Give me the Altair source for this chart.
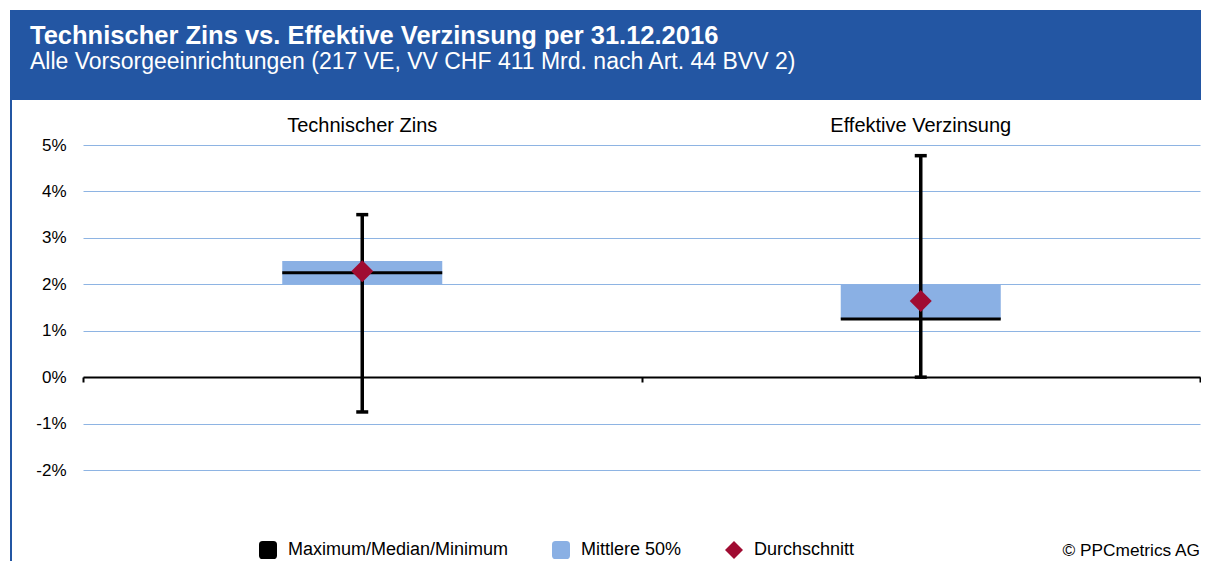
import altair as alt
import pandas as pd

# ---------------- data ----------------
categories = ["Technischer Zins", "Effektive Verzinsung"]
minimum = [-0.0075, 0.0]
lower_quartile = [0.020, 0.0125]
median = [0.0225, 0.0125]
upper_quartile = [0.025, 0.020]
maximum = [0.035, 0.0477]
average = [0.0228, 0.0164]

series_names = ["Maximum/Median/Minimum", "Mittlere 50%", "Durchschnitt"]
series_colors = ["#000000", "#8AB0E4", "#A00C32"]

title_text = ["Technischer Zins vs. Effektive Verzinsung per 31.12.2016"]
subtitle_text = ["Alle Vorsorgeeinrichtungen (217 VE, VV CHF 411 Mrd. nach Art. 44 BVV 2)"]
credit_text = ["© PPCmetrics AG"]

# ---------------- layout constants ----------------
FONT = "Liberation Sans"
W, H = 1117, 325
HEADER_BLUE = "#2356A3"
GRID_BLUE = "#8EB4E3"
rounded_square = ("M -1 -0.6 Q -1 -1 -0.6 -1 L 0.6 -1 Q 1 -1 1 -0.6 L 1 0.6 "
                  "Q 1 1 0.6 1 L -0.6 1 Q -1 1 -1 0.6 Z")

df = pd.DataFrame({
    "Kategorie": categories,
    "Minimum": minimum,
    "Q1": lower_quartile,
    "Median": median,
    "Q3": upper_quartile,
    "Maximum": maximum,
    "Durchschnitt": average,
})

base = alt.Chart(df)

xscale = alt.Scale(domain=categories, paddingInner=0, paddingOuter=0)
yscale = alt.Scale(domain=[-0.02, 0.05], nice=False)
yaxis = alt.Axis(format=".0%", values=[-0.02, -0.01, 0, 0.01, 0.02, 0.03, 0.04, 0.05],
                 labelExpr="replace(datum.label, '\u2212', '-')",
                 grid=True, gridColor=GRID_BLUE, gridWidth=1, domain=False, ticks=False,
                 labelFontSize=17, labelColor="#000000", labelPadding=17, labelFont=FONT,
                 title=None)

legend_cfg = alt.Legend(orient="none", legendX=176, legendY=396, direction="horizontal",
                        title=None, labelFontSize=18, labelFont=FONT, labelColor="#000000",
                        labelLimit=0, symbolSize=324, symbolStrokeWidth=0, labelOffset=11,
                        columnPadding=43, symbolOpacity=1)

color_enc = alt.Color(
    "Serie:N",
    scale=alt.Scale(domain=series_names, range=series_colors),
    legend=legend_cfg,
)

x_top = alt.X("Kategorie:N", sort=categories, scale=xscale,
              axis=alt.Axis(orient="top", domain=False, ticks=False, grid=False,
                            labelAngle=0, labelFontSize=20, labelFont=FONT, labelLimit=0,
                            labelColor="#000000", labelPadding=10, title=None))
x_zero = alt.X("Kategorie:N", sort=categories, scale=xscale,
               axis=alt.Axis(orient="bottom", offset=-93, labels=False, grid=False,
                             domain=True, domainColor="#000000", domainWidth=2,
                             ticks=True, tickBand="extent", tickSize=5, tickWidth=2,
                             tickColor="#000000", title=None))
x_plain = alt.X("Kategorie:N", sort=categories, scale=xscale, axis=None)

box = base.transform_calculate(Serie="'Mittlere 50%'").mark_bar(
    width=alt.RelativeBandSize(0.2865), opacity=1
).encode(
    x=x_zero,
    y=alt.Y("Q1:Q", scale=yscale, axis=yaxis),
    y2="Q3:Q",
    color=color_enc,
)

whisker = base.transform_calculate(Serie="'Maximum/Median/Minimum'").mark_rule(
    strokeWidth=3.5
).encode(
    x=x_top,
    y=alt.Y("Minimum:Q", scale=yscale, axis=yaxis),
    y2="Maximum:Q",
    color=color_enc,
)

caps = base.transform_fold(["Minimum", "Maximum"], as_=["Stat", "Wert"]).transform_calculate(
    Serie="'Maximum/Median/Minimum'"
).mark_tick(size=12, thickness=3.5, opacity=1).encode(
    x=x_plain,
    y=alt.Y("Wert:Q", scale=yscale, axis=yaxis),
    color=color_enc,
)

median_tick = base.transform_calculate(Serie="'Maximum/Median/Minimum'").mark_tick(
    size=160, thickness=3, opacity=1
).encode(
    x=x_plain,
    y=alt.Y("Median:Q", scale=yscale, axis=yaxis),
    color=color_enc,
)

mean_pt = base.transform_calculate(Serie="'Durchschnitt'").mark_point(
    filled=True, size=484, opacity=1
).encode(
    x=x_plain,
    y=alt.Y("Durchschnitt:Q", scale=yscale, axis=yaxis),
    color=color_enc,
    shape=alt.Shape("Serie:N", scale=alt.Scale(domain=series_names,
                                               range=[rounded_square, rounded_square, "diamond"]),
                    legend=legend_cfg),
)

# ---------------- header / decoration ----------------
hdr_df = pd.DataFrame({"t": title_text, "s": subtitle_text, "c": credit_text})
hdr = alt.Chart(hdr_df)

header_rect = hdr.mark_rect(color=HEADER_BLUE).encode(
    x=alt.value(-73), x2=alt.value(W + 20), y=alt.value(-135), y2=alt.value(-45)
)
left_line = hdr.mark_rule(color=HEADER_BLUE, strokeWidth=2).encode(
    x=alt.value(-72), y=alt.value(-45), y2=alt.value(H + 100)
)
title_mark = hdr.mark_text(align="left", baseline="alphabetic", font=FONT, fontSize=25.5,
                           fontWeight="bold", color="#FFFFFF").encode(
    x=alt.value(-53), y=alt.value(-101.5), text="t:N"
)
subtitle_mark = hdr.mark_text(align="left", baseline="alphabetic", font=FONT, fontSize=23,
                              color="#FFFFFF").encode(
    x=alt.value(-53), y=alt.value(-76), text="s:N"
)
credit_mark = hdr.mark_text(align="right", baseline="middle", font=FONT, fontSize=17.3,
                            color="#000000").encode(
    x=alt.value(W), y=alt.value(406), text="c:N"
)

chart = alt.layer(
    header_rect, left_line, title_mark, subtitle_mark,
    box, whisker, caps, median_tick, mean_pt, credit_mark
).resolve_axis(x="independent").properties(
    width=W, height=H,
    autosize=alt.AutoSizeParams(type="none"),
    padding={"left": 75, "top": 137, "right": 1, "bottom": 91},
    background="#FFFFFF",
).configure(font=FONT).configure_view(stroke=None)

chart.save("out.html", embed_options={"renderer": "svg", "actions": False})
